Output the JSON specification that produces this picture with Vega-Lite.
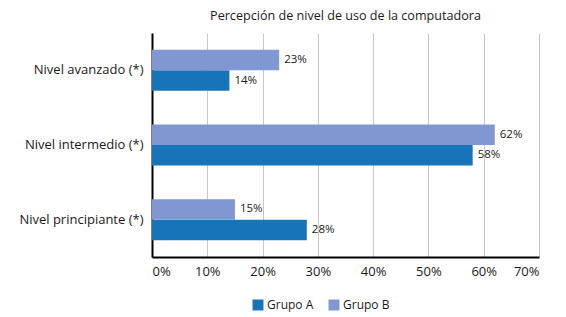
{
  "$schema": "https://vega.github.io/schema/vega-lite/v6.json",
  "width": 387,
  "height": 224,
  "autosize": {"type": "none"},
  "padding": {"left": 152, "top": 33, "right": 27, "bottom": 60},
  "background": "white",
  "config": {
    "font": "Open Sans",
    "view": {"stroke": null}
  },
  "title": {
    "text": "Percepción de nivel de uso de la computadora",
    "fontSize": 12.6,
    "fontWeight": "normal",
    "color": "#1a1a1a",
    "anchor": "middle",
    "offset": 10
  },
  "data": {
    "values": [
      {"nivel": "Nivel avanzado (*)", "grupo": "Grupo A", "valor": 0.14},
      {"nivel": "Nivel avanzado (*)", "grupo": "Grupo B", "valor": 0.23},
      {"nivel": "Nivel intermedio (*)", "grupo": "Grupo A", "valor": 0.58},
      {"nivel": "Nivel intermedio (*)", "grupo": "Grupo B", "valor": 0.62},
      {"nivel": "Nivel principiante (*)", "grupo": "Grupo A", "valor": 0.28},
      {"nivel": "Nivel principiante (*)", "grupo": "Grupo B", "valor": 0.15}
    ]
  },
  "encoding": {
    "y": {
      "field": "nivel",
      "type": "nominal",
      "sort": ["Nivel avanzado (*)", "Nivel intermedio (*)", "Nivel principiante (*)"],
      "scale": {"paddingInner": 0.45, "paddingOuter": 0.225},
      "axis": {
        "title": null,
        "ticks": false,
        "domainColor": "#000",
        "domainWidth": 2,
        "labelFontSize": 13,
        "labelColor": "#1a1a1a",
        "labelPadding": 9
      }
    },
    "yOffset": {"field": "grupo", "type": "nominal", "sort": ["Grupo B", "Grupo A"]},
    "x": {
      "field": "valor",
      "type": "quantitative",
      "scale": {"domain": [0, 0.7], "nice": false},
      "axis": {
        "title": null,
        "format": ".0%",
        "values": [0, 0.1, 0.2, 0.3, 0.4, 0.5, 0.6, 0.7],
        "ticks": false,
        "domainColor": "#000",
        "domainWidth": 2,
        "gridColor": "#c8c8c8",
        "gridWidth": 1,
        "labelFontSize": 13,
        "labelColor": "#1a1a1a",
        "labelPadding": 8
      }
    }
  },
  "layer": [
    {
      "mark": {"type": "bar"},
      "encoding": {
        "color": {
          "field": "grupo",
          "type": "nominal",
          "scale": {"domain": ["Grupo A", "Grupo B"], "range": ["#1874b9", "#8197d1"]},
          "legend": {
            "title": null,
            "orient": "none",
            "direction": "horizontal",
            "legendX": 100,
            "legendY": 266,
            "symbolType": "square",
            "symbolSize": 120,
            "symbolStrokeWidth": 0,
            "labelFontSize": 12,
            "labelColor": "#1a1a1a",
            "columnPadding": 14,
            "labelOffset": 3
          }
        }
      }
    },
    {
      "mark": {"type": "text", "align": "left", "baseline": "middle", "dx": 5, "fontSize": 11.5, "color": "#1a1a1a"},
      "encoding": {
        "text": {"field": "valor", "type": "quantitative", "format": ".0%"}
      }
    }
  ]
}
